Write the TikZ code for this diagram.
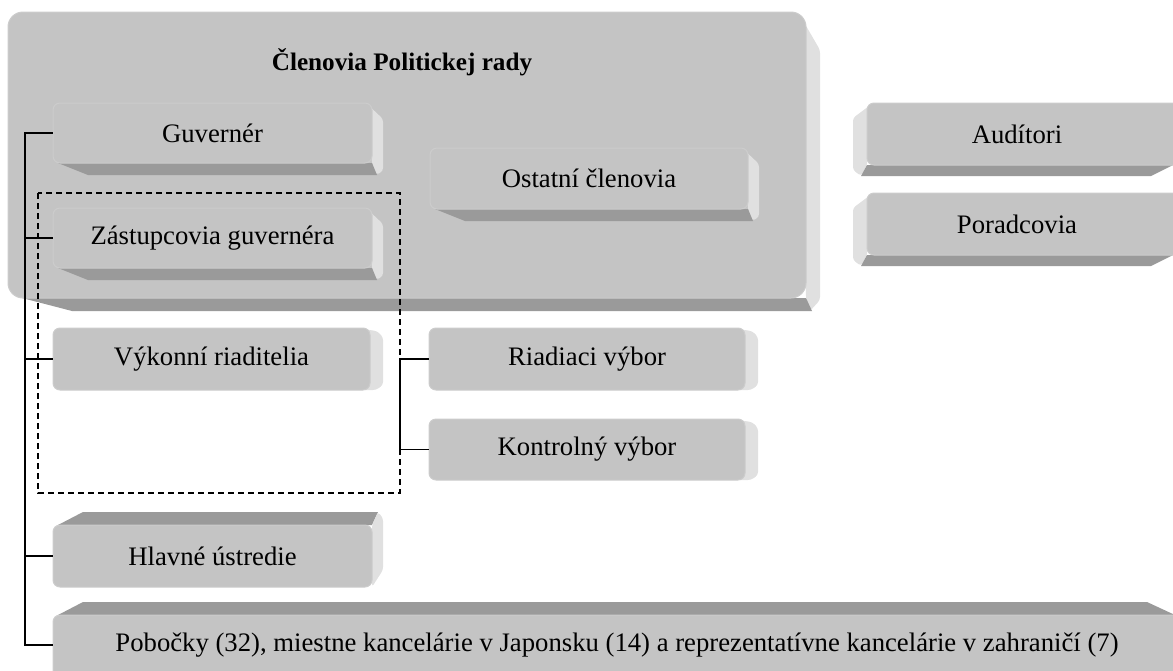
\documentclass[tikz,border=0pt]{standalone}
\usepackage{fontspec}
\setmainfont{Liberation Serif}
\definecolor{cface}{HTML}{C4C4C4}
\definecolor{cedge}{HTML}{CCCCCC}
\definecolor{cdark}{HTML}{9A9A9A}
\definecolor{clight}{HTML}{E0E0E0}
\newcommand\lbl{\fontsize{26.7}{30}\selectfont}
\tikzset{
  face/.style={fill=cface, draw=cedge, line width=1pt, rounded corners=7pt, inner sep=0pt,
    font=\lbl, text=black},
  darkface/.style={fill=cdark},
  lightface/.style={fill=clight, rounded corners=3pt},
  link/.style={draw=black, line width=1.6pt},
  group/.style={draw=black, line width=1.4pt, dash pattern=on 6pt off 4pt}
}
% right + bottom extrusion: x1 y1 x2 y2
\newcommand\extRB[4]{%
  \fill[lightface] ({#3-6},#2) -- ({#3+11},{#2+16}) -- ({#3+11},{#4+8}) -- ({#3+4},{#4+12}) -- (#3,#4) -- cycle;
  \fill[darkface] ({#1+5},#4) -- ({#1+35},{#4+12}) -- ({#3+5},{#4+12}) -- (#3,#4) -- cycle;}
% right only
\newcommand\extR[4]{%
  \fill[lightface] ({#3-8},{#2+1}) -- ({#3+7},{#2+3}) -- ({#3+13},{#2+9}) -- ({#3+13},{#4-5}) -- ({#3+6},#4) -- ({#3-8},#4) -- cycle;}
% left + bottom
\newcommand\extLB[4]{%
  \fill[lightface] ({#1+6},#2) -- ({#1-14},{#2+15}) -- ({#1-14},{#4+5}) -- ({#1-6},{#4+11}) -- (#1,#4) -- cycle;
  \fill[darkface] ({#1-6},{#4+11}) -- ({#3-22},{#4+11}) -- (#3,#4) -- (#1,#4) -- cycle;}
% top + right
\newcommand\extTR[4]{%
  \fill[darkface] ({#1+5},#2) -- ({#1+30},{#2-13}) -- ({#3+6},{#2-13}) -- (#3,#2) -- cycle;
  \fill[lightface] (#3,#2) -- ({#3+6},{#2-13}) -- ({#3+11},{#2-7}) -- ({#3+11},{#4-17}) -- (#3,#4) -- cycle;}
\begin{document}
\begin{tikzpicture}[x=1pt,y=-1pt]
\useasboundingbox (0,0) rectangle (1173,670);
\clip (0,0) rectangle (1173,670);
% big box
\fill[lightface] (798,12) -- (820,50) -- (820,300) -- (810,311) -- (806,298) -- cycle;
\fill[darkface] (22,298) -- (72,311) -- (812,311) -- (806,298) -- cycle;
\node[face, rounded corners=15pt, minimum width=798pt, minimum height=286pt] (rada) at (407,155) {};
\node[font=\fontsize{25.2}{30}\selectfont\bfseries] (title) at (402,62) {Členovia Politickej rady};
% inner boxes
\extRB{53}{103}{372}{163}
\node[face, minimum width=319pt, minimum height=60pt] (gov) at (212.5,133) {Guvernér};
\extRB{53}{208}{372}{268}
\node[face, minimum width=319pt, minimum height=60pt] (zast) at (212.5,238) {Zástupcovia guvernéra};
\extRB{430}{148}{748}{209}
\node[face, minimum width=318pt, minimum height=61pt] (ost) at (589,178.5) {Ostatní členovia};
% right column
\extLB{867}{103}{1173}{165}
\node[face, minimum width=330pt, minimum height=62pt] (aud) at (1032,134) {};
\node (audt) at (1017,134) [font=\lbl] {Audítori};
\extLB{867}{193}{1173}{255}
\node[face, minimum width=330pt, minimum height=62pt] (por) at (1032,224) {};
\node (port) at (1017,224) [font=\lbl] {Poradcovia};
% executive row
\extR{53}{328}{370}{390}
\node[face, minimum width=317pt, minimum height=62pt] (vyk) at (211.5,359) {Výkonní riaditelia};
\extR{429}{328}{745}{390}
\node[face, minimum width=316pt, minimum height=62pt] (riad) at (587,359) {Riadiaci výbor};
\extR{429}{419}{745}{480}
\node[face, minimum width=316pt, minimum height=61pt] (kont) at (587,449.5) {Kontrolný výbor};
% bottom boxes
\extTR{53}{525}{372}{587}
\node[face, minimum width=319pt, minimum height=62pt] (hlav) at (212.5,556) {Hlavné ústredie};
\fill[darkface] (58,615) -- (83,602) -- (1147,602) -- (1175,615) -- cycle;
\node[face, minimum width=1140pt, minimum height=70pt] (pob) at (623,650) {};
\node (pobt) at (617,645) [font=\lbl] {Pobočky (32), miestne kancelárie v Japonsku (14) a reprezentatívne kancelárie v zahraničí (7)};
% group
\draw[group] (38,193) rectangle (400,493);
% connectors
\coordinate (trunkTop) at (25,133);
\coordinate (trunkBot) at (25,645);
\draw[link] (gov.west) -- (trunkTop) -- (trunkBot) -- (pob.west |- trunkBot);
\draw[link] (trunkTop |- zast.west) -- (zast.west);
\draw[link] (trunkTop |- vyk.west) -- (vyk.west);
\draw[link] (trunkTop |- hlav.west) -- (hlav.west);
\coordinate (brk) at (400,359);
\draw[link] (riad.west) -- (brk) -- (brk |- kont.west) -- (kont.west);
\end{tikzpicture}
\end{document}
